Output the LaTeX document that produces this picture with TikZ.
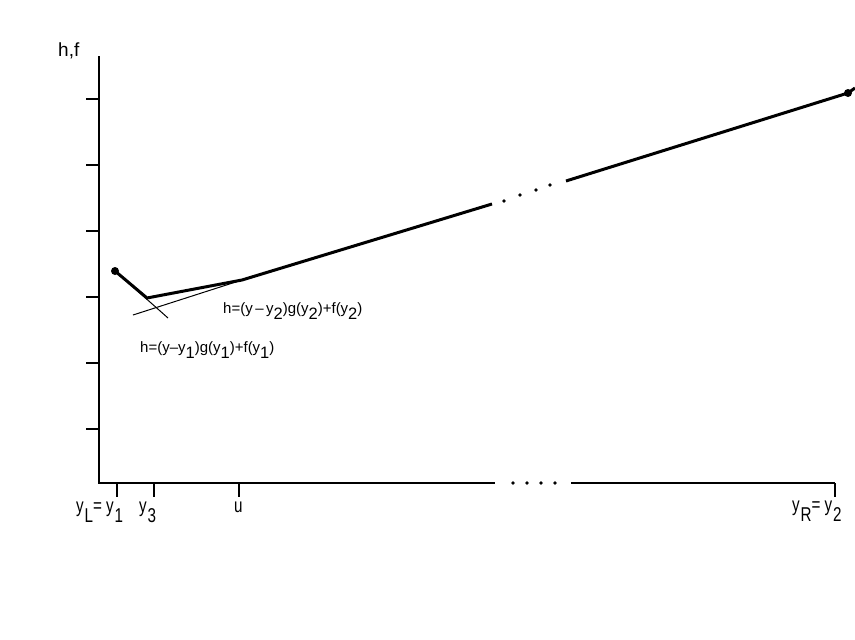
\documentclass[tikz,border=0pt]{standalone}
\usepackage{fontspec}
\setmainfont{Liberation Sans}
\newfontfamily\axf[FakeStretch=0.76]{Liberation Sans}
\newcommand{\sbs}[1]{\raisebox{-0.42em}{\fontsize{16.5}{17}\selectfont #1}}
\newcommand{\sba}[1]{\kern0.8pt\raisebox{-0.5em}{#1}}
\begin{document}
\begin{tikzpicture}[x=1pt,y=-1pt,
  axis/.style={line width=2.4pt},
  curve/.style={line width=3pt},
  thin/.style={line width=1pt},
  tick/.style={line width=1.5pt},
  lbl/.style={inner sep=0pt,anchor=base west,font=\fontsize{15}{17}\selectfont},
  albl/.style={inner sep=0pt,anchor=base west,font=\axf\fontsize{20}{22}\selectfont},
  dotm/.style={circle,fill=black,inner sep=0pt,minimum size=3.6pt}]
\useasboundingbox (0,0) rectangle (855,640);
% axes
\coordinate (top) at (99,56);
\coordinate (orig) at (99,483);
\coordinate (xa) at (495,483);
\coordinate (xb) at (571,483);
\coordinate (xe) at (835,483);
\draw[axis] (top) -- (orig) -- (xa);
\draw[axis] (xb) -- (xe);
\foreach \x/\n in {513/a,527/b,541/c,555/d}
  \node[dotm] (xd\n) at (\x,483) {};
% y ticks
\foreach \y in {99,165,231,297,363,429}
  \draw[tick] (86,\y) -- (99,\y);
% x ticks
\foreach \x/\n in {117/ya,154/yc,239/u,835/yb}
  \draw[tick] (\x,483) coordinate (t\n) -- (\x,497);
% labels
\node[inner sep=0pt,anchor=base west,font=\fontsize{19}{21}\selectfont] (hf) at (58,56) {h,f};
\node[albl] (ly1) at (76,512) {y\sba{L}= y\sba{1}};
\node[albl] (ly3) at (139,512) {y\sba{3}};
\node[albl] (lu) at (234,512) {u};
\node[albl] (ly2) at (792,511) {y\sba{R}= y\sba{2}};
% curve
\node[dotm,minimum size=8pt] (p1) at (115,271) {};
\coordinate (p3) at (147,298);
\coordinate (pu) at (242,280);
\coordinate (pa) at (492,204);
\coordinate (pb) at (566,181);
\node[dotm,minimum size=8pt] (p2) at (848,93) {};
\coordinate (pend) at (855,88);
\draw[curve] (p1.center) -- (p3) -- (pu) -- (pa);
\draw[curve] (pb) -- (p2.center) -- (pend);
\foreach \x/\y/\n in {504/201/a,520/195/b,536/190/c,550/185/d}
  \node[dotm] (cd\n) at (\x,\y) {};
% tangents
\coordinate (t1e) at (168,318);
\coordinate (t2s) at (133,315);
\draw[thin] (p1.center) -- (t1e);
\draw[thin] (t2s) -- (pu);
% formulas
\node[lbl] (f2) at (223,313) {h=(y\,–\,y\sbs{2})g(y\sbs{2})+f(y\sbs{2})};
\node[lbl] (f1) at (140,352) {h=(y–y\sbs{1})g(y\sbs{1})+f(y\sbs{1})};
\end{tikzpicture}
\end{document}
